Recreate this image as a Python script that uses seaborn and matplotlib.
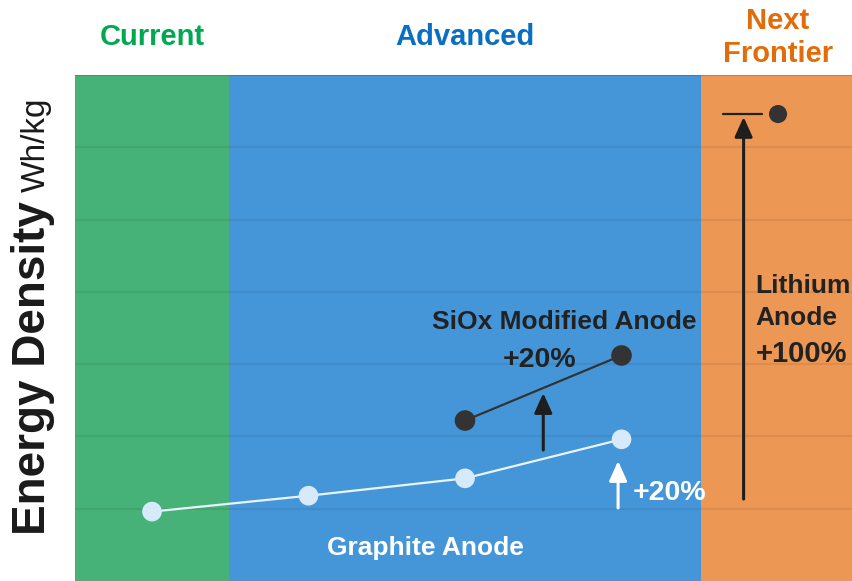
import matplotlib
matplotlib.use("Agg")
import matplotlib.pyplot as plt
from matplotlib.transforms import IdentityTransform
import pandas as pd
import seaborn as sns

# --- data -------------------------------------------------------------
graphite_stage = [0, 1, 2, 3]
graphite_wh = [148, 159, 171, 198]

siox_stage = [2, 3]
siox_wh = [211, 256]

lithium_stage = [4]
lithium_wh = [423]

zone_labels = ["Current", "Advanced", "Next\nFrontier"]
zone_edges = [-0.492, 0.495, 3.508, 4.479]
zone_fill = ["#47b277", "#4596d8", "#ec9754"]
zone_text = ["#00a84f", "#0a6fc2", "#e36c0a"]

gain_labels = {"siox": "+20%", "graphite": "+20%", "lithium": "+100%"}

graphite_df = pd.DataFrame({"stage": graphite_stage, "wh": graphite_wh})
siox_df = pd.DataFrame({"stage": siox_stage, "wh": siox_wh})
lithium_df = pd.DataFrame({"stage": lithium_stage, "wh": lithium_wh})

# --- style ------------------------------------------------------------
sns.set_style("white")
plt.rcParams["font.family"] = ["Liberation Sans", "DejaVu Sans"]

fig = plt.figure(figsize=(8.53, 5.81), dpi=100)
ax = fig.add_axes([75 / 853, 0.0, 1 - 75 / 853, (581 - 75) / 581])

# coloured stage bands (outer bands run past the view so they reach the edge)
band_lo = [zone_edges[0] - 0.1] + zone_edges[1:-1]
band_hi = zone_edges[1:-1] + [zone_edges[-1] + 0.1]
for lo, hi, c in zip(band_lo, band_hi, zone_fill):
    ax.axvspan(lo, hi, ymin=-0.05, ymax=1.0, color=c, lw=0, zorder=0)

ax.set_xlim(zone_edges[0], zone_edges[-1])
ax.set_ylim(100, 450)
for gy in range(150, 450, 50):
    ax.axhline(gy, color="#000000", alpha=0.07, lw=1.5, zorder=1)
ax.axhline(450, color="#000000", alpha=0.15, lw=1.5, zorder=1)

# graphite anode series
sns.lineplot(data=graphite_df, x="stage", y="wh", ax=ax, color="#eaf4fd",
             lw=1.6, zorder=3)
sns.scatterplot(data=graphite_df, x="stage", y="wh", ax=ax, color="#d6eafc",
                s=200, edgecolor="none", zorder=4)

# SiOx modified anode series
sns.lineplot(data=siox_df, x="stage", y="wh", ax=ax, color="#333333",
             lw=1.6, zorder=3)
sns.scatterplot(data=siox_df, x="stage", y="wh", ax=ax, color="#333333",
                s=220, edgecolor="none", zorder=4)

# lithium anode point and its reference bar
sns.scatterplot(data=lithium_df, x="stage", y="wh", ax=ax, color="#333333",
                s=170, edgecolor="none", zorder=4)
ax.plot([3.65, 3.90], [lithium_wh[0], lithium_wh[0]], color="#222222",
        lw=1.6, zorder=3)

# improvement arrows
def arrow(x, y0, y1, color):
    ax.annotate("", xy=(x, y1), xytext=(x, y0),
                arrowprops=dict(arrowstyle="-|>,head_length=0.6,head_width=0.27",
                                mutation_scale=20, color=color, lw=2.2,
                                shrinkA=0, shrinkB=0),
                zorder=5)

arrow(2.5, 190.6, 230.0, "#1e1e1e")
arrow(2.978, 150.5, 183.0, "#ffffff")
arrow(3.78, 156.7, 421.0, "#1e1e1e")

# zone headings
for xc, lab, c in zip([0, 2, 4], zone_labels, zone_text):
    ax.text(xc, 476, lab, ha="center", va="center", color=c, fontsize=21,
            fontweight="bold", clip_on=False, linespacing=1.2)

# series annotations
ax.text(2.636, 279.1, "SiOx Modified Anode", ha="center", va="center",
        color="#222222", fontsize=19, fontweight="bold")
ax.text(2.479, 252.8, gain_labels["siox"], ha="center", va="center",
        color="#222222", fontsize=20.5, fontweight="bold")
ax.text(3.31, 160.9, gain_labels["graphite"], ha="center", va="center",
        color="#ffffff", fontsize=20.5, fontweight="bold")
ax.text(1.744, 122.8, "Graphite Anode", ha="center", va="center",
        color="#ffffff", fontsize=19, fontweight="bold")
ax.text(3.856, 299.2, "Lithium", ha="left", va="baseline",
        color="#222222", fontsize=19, fontweight="bold")
ax.text(3.856, 277.0, "Anode", ha="left", va="baseline",
        color="#222222", fontsize=19, fontweight="bold")
ax.text(3.856, 251.5, gain_labels["lithium"], ha="left", va="baseline",
        color="#222222", fontsize=21, fontweight="bold")

ax.set_xticks([])
ax.set_yticks([])
ax.set_xlabel("")
ax.set_ylabel("")
for s in ax.spines.values():
    s.set_visible(False)

# y-axis title: bold quantity followed by regular unit
t1 = fig.text(45, 581 - 535, "Energy Density", rotation=90,
              rotation_mode="anchor", ha="left", va="baseline",
              fontsize=33, fontweight="bold", color="#1a1a1a",
              transform=IdentityTransform())
fig.canvas.draw()
bb = t1.get_window_extent()
fig.text(45, bb.y1 + 9, "Wh/kg", rotation=90, rotation_mode="anchor",
         ha="left", va="baseline", fontsize=24, color="#1a1a1a",
         transform=IdentityTransform())

fig.savefig("out.png", dpi=100)
